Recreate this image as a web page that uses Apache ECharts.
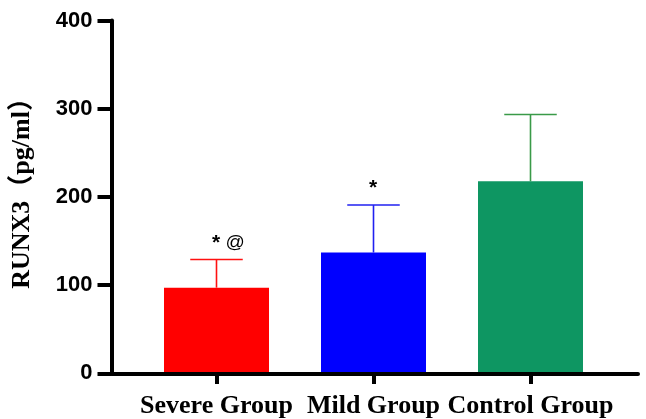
<!DOCTYPE html>
<html>
<head>
<meta charset="utf-8">
<script src="https://cdn.jsdelivr.net/npm/echarts@6/dist/echarts.min.js"></script>
<style>html,body{margin:0;padding:0;background:#fff}#c{width:646px;height:419px}</style>
</head>
<body>
<div id="c"></div>
<script>
var categories = ['Severe Group', 'Mild Group', 'Control Group'];
var means = [96, 136, 217];
var sds = [32, 54, 76];
var marks = ['* @', '*', ''];
var barColors = ['#FF0000', '#0000FF', '#0E9662'];
var errColors = ['#FF1010', '#2020F0', '#3A9A48'];
var yTicks = [0, 100, 200, 300, 400];

var chart = echarts.init(document.getElementById('c'), null, {renderer: 'canvas'});
var gridTop = 20.5, gridBottom = 45.7;
chart.setOption({
  animation: false,
  grid: [
    {left: 111.5, right: 8, top: gridTop, bottom: gridBottom},
    {left: 138, right: 37, top: gridTop, bottom: gridBottom}
  ],
  xAxis: [
    {gridIndex: 0, type: 'value', min: 0, max: 1, axisLine: {show: true, lineStyle: {color: '#000', width: 4}},
     axisTick: {show: false}, axisLabel: {show: false}, splitLine: {show: false}},
    {gridIndex: 1, type: 'category', data: categories,
     axisLine: {show: false}, axisTick: {show: true, alignWithLabel: true, length: 12, lineStyle: {color: '#000', width: 4}},
     axisLabel: {color: '#000', fontFamily: 'Liberation Serif', fontWeight: 'bold', fontSize: 26, margin: 21, interval: 0, hideOverlap: false}}
  ],
  yAxis: [
    {gridIndex: 0, type: 'value', min: 0, max: 400, interval: 100,
     name: 'RUNX3（pg/ml）', nameLocation: 'middle', nameGap: 76,
     nameTextStyle: {color: '#000', fontFamily: '"Liberation Serif", "Noto Sans CJK SC"', fontWeight: 'bold', fontSize: 26, padding: [0, 0, 0, 20]},
     axisLine: {show: true, lineStyle: {color: '#000', width: 4}},
     axisTick: {show: true, length: 14, lineStyle: {color: '#000', width: 4}},
     axisLabel: {color: '#000', fontFamily: 'Liberation Sans', fontWeight: 'bold', fontSize: 22, margin: 19,
       formatter: function (v) { return yTicks.indexOf(v) >= 0 ? String(v) : ''; }},
     splitLine: {show: false}},
    {gridIndex: 1, type: 'value', min: 0, max: 400, interval: 100, show: false}
  ],
  series: [
    {type: 'bar', xAxisIndex: 1, yAxisIndex: 1, barWidth: 105,
     data: means.map(function (m, i) { return {value: m, itemStyle: {color: barColors[i]}}; }),
     z: 2},
    {type: 'custom', xAxisIndex: 1, yAxisIndex: 1, z: 1,
     data: means.map(function (m, i) { return [i, m, m + sds[i]]; }),
     renderItem: function (params, api) {
       var i = api.value(0);
       var base = api.coord([i, api.value(1)]);
       var top = api.coord([i, api.value(2)]);
       var half = api.size([1, 0])[0] * 105 / 157 / 4;
       var c = errColors[i];
       var children = [
         {type: 'line', shape: {x1: base[0], y1: base[1], x2: top[0], y2: top[1]}, style: {stroke: c, lineWidth: 1.6}},
         {type: 'line', shape: {x1: top[0] - half, y1: top[1], x2: top[0] + half, y2: top[1]}, style: {stroke: c, lineWidth: 1.6}}
       ];
       if (marks[i]) {
         var parts = marks[i].split(' ');
         var txt = parts.map(function (p) { return p === '*' ? '{a|*}' : '{b|' + p + '}'; }).join('{b| }');
         children.push({type: 'text', x: top[0] - 4.5, y: top[1] - 6,
           style: {text: txt, fill: '#000', align: 'left', verticalAlign: 'bottom',
             rich: {a: {font: 'bold 21px "Liberation Sans"', fill: '#000'},
                    b: {font: '19px "Liberation Sans"', fill: '#000'}}}});
       }
       return {type: 'group', children: children};
     }}
  ]
});
</script>
</body>
</html>
